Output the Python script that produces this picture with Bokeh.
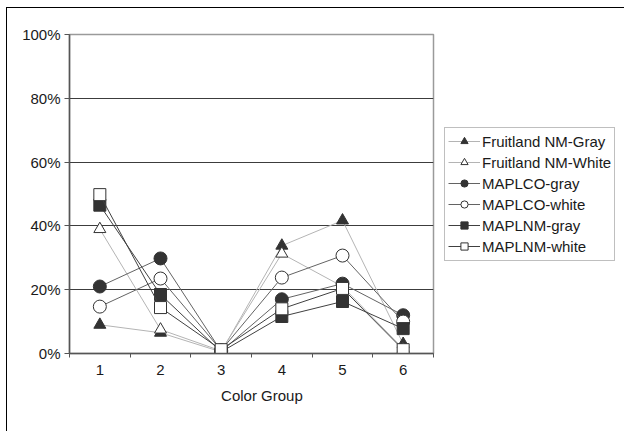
from bokeh.plotting import figure
from bokeh.models import (FixedTicker, PrintfTickFormatter, Legend, LegendItem,
                          Range1d)
from bokeh.embed import file_html
from bokeh.resources import INLINE

groups = [1, 2, 3, 4, 5, 6]
group_labels = ["1", "2", "3", "4", "5", "6"]
y_ticks = [0, 20, 40, 60, 80, 100]

fruitland_gray = [9.0, 6.5, 0.5, 33.8, 41.7, 3.0]
fruitland_white = [39.0, 7.5, 0.8, 31.3, 21.0, 1.5]
maplco_gray = [21.0, 29.8, 0.7, 17.0, 21.9, 12.0]
maplco_white = [14.7, 23.5, 1.0, 23.8, 30.7, 10.0]
maplnm_gray = [46.5, 18.5, 0.5, 11.6, 16.3, 7.8]
maplnm_white = [49.8, 14.4, 1.2, 14.0, 20.4, 1.2]

series_names = ["Fruitland NM-Gray", "Fruitland NM-White", "MAPLCO-gray",
                "MAPLCO-white", "MAPLNM-gray", "MAPLNM-white"]
series_values = [fruitland_gray, fruitland_white, maplco_gray,
                 maplco_white, maplnm_gray, maplnm_white]

FONT = "Liberation Sans"
TXT = "#1a1a1a"

p = figure(frame_width=364, frame_height=319, x_range=Range1d(0.5, 6.5), y_range=Range1d(0, 100),
           output_backend="svg", toolbar_location=None,
           min_border_left=62, min_border_top=26, min_border_right=192, min_border_bottom=79)
p.margin = (7, 0, 0, 6)
p.styles = {"border-left": "1px solid #000000", "border-top": "1px solid #000000"}
p.background_fill_color = "white"
p.border_fill_color = "white"
p.outline_line_color = "#9a9a9a"
p.outline_line_width = 1.5

# grid
p.xgrid.visible = False
p.ygrid.grid_line_color = "#3c3c3c"
p.ygrid.grid_line_width = 1
p.yaxis.ticker = FixedTicker(ticks=y_ticks)

# axes
p.yaxis.formatter = PrintfTickFormatter(format="%d%%")
p.xaxis.ticker = FixedTicker(ticks=groups, minor_ticks=[0.5, 1.5, 2.5, 3.5, 4.5, 5.5, 6.5])
p.xaxis.major_label_overrides = {g: l for g, l in zip(groups, group_labels)}
for ax in (p.xaxis[0], p.yaxis[0]):
    ax.axis_line_color = "#555555"
    ax.axis_line_width = 1.5
    ax.major_label_text_font = FONT
    ax.major_label_text_font_size = "15px"
    ax.major_label_text_color = TXT
    ax.major_tick_line_color = "#555555"
p.xaxis.major_tick_out = 0
p.xaxis.major_tick_in = 0
p.xaxis.minor_tick_out = 4
p.xaxis.minor_tick_in = 0
p.xaxis.minor_tick_line_color = "#555555"
p.xaxis.major_label_standoff = 7
p.xaxis.axis_label = "\u00a0\u00a0\u00a0\u00a0\u00a0Color Group"
p.xaxis.axis_label_text_font = FONT
p.xaxis.axis_label_text_font_size = "15px"
p.xaxis.axis_label_text_font_style = "normal"
p.xaxis.axis_label_text_color = TXT
p.xaxis.axis_label_standoff = 9
p.yaxis.major_tick_out = 5
p.yaxis.major_tick_in = 0
p.yaxis.minor_tick_line_color = None
p.yaxis.major_label_standoff = 4

# series
line_colors = ["#b4b4b4", "#b4b4b4", "#636363", "#636363", "#404040", "#404040"]
markers = ["triangle", "triangle", "circle", "circle", "square", "square"]
fills = ["#333333", "white", "#333333", "white", "#333333", "white"]
sizes = [12, 12, 13, 13, 12, 12]

items = []
for name, vals, lc, mk, fc, sz in zip(series_names, series_values, line_colors, markers, fills, sizes):
    r1 = p.line(groups, vals, line_color=lc, line_width=1)
    r2 = p.scatter(groups, vals, marker=mk, size=sz, fill_color=fc, line_color="#333333",
                   line_width=1)
    items.append(LegendItem(label=name, renderers=[r1, r2]))

legend = Legend(items=items, location="left")
legend.label_text_font = FONT
legend.label_text_font_size = "15px"
legend.label_text_color = TXT
legend.glyph_width = 32
legend.glyph_height = 18
legend.label_height = 21
legend.label_standoff = 2
legend.spacing = 0
legend.padding = 3
legend.margin = 11
legend.border_line_color = "#808080"
legend.border_line_width = 1.5
legend.background_fill_color = "white"
legend.background_fill_alpha = 1
p.add_layout(legend, "right")

open("out.html", "w").write(file_html(p, INLINE))
